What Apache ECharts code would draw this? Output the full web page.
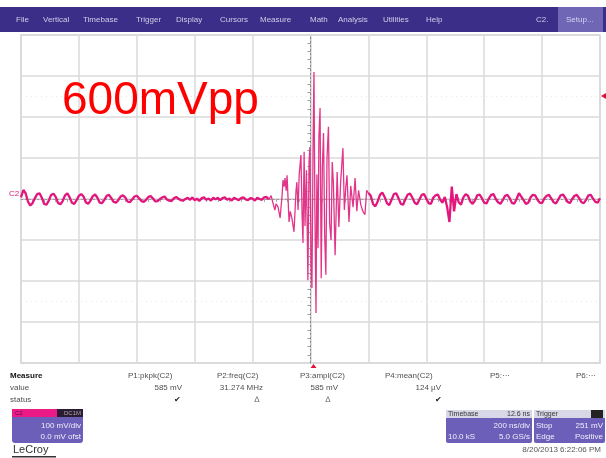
<!DOCTYPE html>
<html><head><meta charset="utf-8">
<script src="https://cdn.jsdelivr.net/npm/echarts@6/dist/echarts.min.js"></script>
<style>html,body{margin:0;padding:0;background:#fff}#c{width:606px;height:458px}</style>
</head><body><div id="c"></div>
<script>
// ---- data ----
const timeStartNs = -1000;
const sampleStepNs = 8;
const preTriggerMv = [
  4, 22, 14, -6, -16, -10,
  2, 12, 14, 3, -12, -14,
  -4, 10, 13, 5, -10, -13,
  -5, 9, 14, 4, -9, -12,
  -3, 8, 12, 6, -8, -12,
  -4, 7, 11, 3, -9, -10,
  -2, 8, 10, 2, -7, -9,
  -3, 6, 9, 4, -6, -8,
  -1, 6, 8, 2, -5, -7,
  -2, 5, 7, 1, -6, -5,
  0, 4, 6, -1, -4, -5,
  2, 5, 1, -3, -4, 0,
  3, -2, 4, -3, 1, -5,
  2, 4, -2, 1, -4, 3,
  -1, 3, -3, 2, 4, -2,
  1, -4, 3, 0, -3, 2,
  4, -1, -3, 2, 1, -4,
  3, 0, -2, 4, 5, -1
];
// [time ns, mV] around the trigger
const burstPoints = [
  [-136, 8], [-131, -6], [-123, -27], [-119, -12], [-112, -20], [-105, -46], [-98, 10],
  [-95, 46], [-91, 30], [-88, 51], [-84, 20], [-81, 58], [-74, -56], [-70, -30], [-64, -48],
  [-57, -80], [-50, 20], [-47, 41], [-43, -27], [-39, 60], [-33, 107], [-29, -40], [-26, -107],
  [-22, 115], [-19, -66], [-14, 70], [-9, -198], [-5, 90], [-2, 127], [2, -150], [5, -217],
  [9, 140], [12, 310], [15, -10], [19, -278], [22, 60], [26, -120], [29, 150], [33, 222],
  [37, -193], [41, 80], [45, 161], [49, -90], [53, -185], [57, 100], [62, 176], [66, -60],
  [71, -100], [75, 90], [79, 40], [85, -137], [92, 66], [98, -68], [104, 40], [112, 124],
  [117, -27], [122, 30], [126, 58], [133, -56], [139, 32], [147, -20], [154, 51], [160, -30],
  [166, 21], [174, -15], [181, -30], [188, -38], [194, 21]
];
const postStartNs = 200;
const postBurstMv = [
  15, 8, -12, -18, -6, 10,
  16, 5, -10, -15, -2, 12,
  14, 2, -12, -14, 0, 11,
  13, 3, -9, -13, -2, 10,
  12, 1, -10, -12, 3, 9,
  11, -2, -9, 5, -20, -56,
  30, -30, 12, -8, -14, 4,
  12, 8, -6, -12, -4, 9,
  11, 2, -9, -11, 1, 10,
  12, 0, -8, -12, -3, 8,
  10, 2, -10, -11, 0, 14,
  6, -3, -12, -9, 4, 10,
  9, -2, -9, -10, 2, 8,
  10, 1, -8, -11, -1, 9,
  11, 3, -7, -10, 0, 8,
  10, 2, -8, -10, -2, 9,
  10, 1, -7, -9, 2
];
const triggerLevelMv = 251;
const annotation = '600mVpp';
const menuItems = ['File','Vertical','Timebase','Trigger','Display','Cursors','Measure','Math','Analysis','Utilities','Help'];
const measureNames = ['P1:pkpk(C2)','P2:freq(C2)','P3:ampl(C2)','P4:mean(C2)','P5:\u00b7\u00b7\u00b7','P6:\u00b7\u00b7\u00b7'];
const measureValues = ['585 mV','31.274 MHz','585 mV','124 \u00b5V'];
const measureStatus = ['\u2714','\u2206','\u2206','\u2714'];
const channelLines = ['100 mV/div','0.0 mV ofst'];
const timebaseLines = ['200 ns/div','10.0 kS','5.0 GS/s'];
const triggerLines = [['Stop','251 mV'],['Edge','Positive']];
const dateText = '8/20/2013 6:22:06 PM';

// ---- build ----
const preData = preTriggerMv.map((v, i) => [timeStartNs + i * sampleStepNs, v]);
const postData = postBurstMv.map((v, i) => [postStartNs + i * sampleStepNs, v]);
const burstData = [preData[preData.length - 1]].concat(burstPoints, [postData[0]]);

const FONT = 'Liberation Sans, Arial, sans-serif';
const chart = echarts.init(document.getElementById('c'), null, {renderer: 'canvas'});

const g = [];
// menu bar
g.push({type:'rect', shape:{x:0,y:7,width:606,height:25}, style:{fill:'#3b2e88'}});
const menuX = [16,43,83,136,176,220,260,310,338,383,426];
menuItems.forEach((m,i)=>g.push({type:'text', x:menuX[i], y:19.5, style:{text:m, fill:'#cfcde8', font:'8px '+FONT, verticalAlign:'middle'}}));
g.push({type:'text', x:536, y:19.5, style:{text:'C2.', fill:'#cfcde8', font:'8px '+FONT, verticalAlign:'middle'}});
g.push({type:'rect', shape:{x:558,y:7,width:45,height:25}, style:{fill:'#7066b6'}});
g.push({type:'text', x:566, y:19.5, style:{text:'Setup...', fill:'#d6d4ee', font:'8px '+FONT, verticalAlign:'middle'}});
// annotation
g.push({type:'text', x:62, y:101, z:100, style:{text:annotation, fill:'#ff0000', font:'46px '+FONT, verticalAlign:'middle'}});
// channel label
g.push({type:'text', x:9, y:194, style:{text:'C2', fill:'#e0157a', font:'8px '+FONT, verticalAlign:'middle'}});
// measure table
const tStyle = (t, extra) => Object.assign({text:t, fill:'#505050', font:'8px '+FONT, verticalAlign:'middle'}, extra||{});
g.push({type:'text', x:10, y:376, style:tStyle('Measure', {fill:'#111', font:'bold 8px '+FONT})});
g.push({type:'text', x:10, y:388, style:tStyle('value')});
g.push({type:'text', x:10, y:400, style:tStyle('status')});
const headX = [128,217,300,385,490,576];
measureNames.forEach((n,i)=>g.push({type:'text', x:headX[i], y:376, style:tStyle(n)}));
const valX = [182,263,338,441];
measureValues.forEach((v,i)=>g.push({type:'text', x:valX[i], y:388, style:tStyle(v,{align:'right'})}));
const stX = [177,257,328,438];
measureStatus.forEach((s,i)=>g.push({type:'text', x:stX[i], y:400, style:tStyle(s,{align:'center', fill: s==='\u2714' ? '#222' : '#666'})}));
// channel box
g.push({type:'rect', shape:{x:12,y:409,width:71,height:34,r:3}, style:{fill:'#6b5fb9'}});
g.push({type:'rect', shape:{x:12,y:409,width:71,height:8}, style:{fill:'#ec1a86'}});
g.push({type:'rect', shape:{x:57,y:409,width:26,height:8}, style:{fill:'#2b1b33'}});
g.push({type:'text', x:15, y:413, style:{text:'C2', fill:'#5a1040', font:'6px '+FONT, verticalAlign:'middle'}});
g.push({type:'text', x:81, y:413, style:{text:'DC1M', fill:'#aaa', font:'6px '+FONT, verticalAlign:'middle', align:'right'}});
g.push({type:'text', x:81, y:426, style:{text:channelLines[0], fill:'#f0eefa', font:'8px '+FONT, verticalAlign:'middle', align:'right'}});
g.push({type:'text', x:81, y:437, style:{text:channelLines[1], fill:'#f0eefa', font:'8px '+FONT, verticalAlign:'middle', align:'right'}});
// LeCroy
g.push({type:'text', x:13, y:450, style:{text:'LeCroy', fill:'#333', font:'11px '+FONT, verticalAlign:'middle'}});
g.push({type:'rect', shape:{x:12,y:456,width:44,height:1.5}, style:{fill:'#333'}});
// timebase box
g.push({type:'rect', shape:{x:446,y:410,width:86,height:33,r:2}, style:{fill:'#6b5fb9'}});
g.push({type:'rect', shape:{x:446,y:410,width:86,height:8}, style:{fill:'#d8d7e8'}});
g.push({type:'text', x:448, y:414, style:{text:'Timebase', fill:'#333', font:'7px '+FONT, verticalAlign:'middle'}});
g.push({type:'text', x:530, y:414, style:{text:'12.6 ns', fill:'#333', font:'7px '+FONT, verticalAlign:'middle', align:'right'}});
g.push({type:'text', x:530, y:426, style:{text:timebaseLines[0], fill:'#f0eefa', font:'8px '+FONT, verticalAlign:'middle', align:'right'}});
g.push({type:'text', x:448, y:437, style:{text:timebaseLines[1], fill:'#f0eefa', font:'8px '+FONT, verticalAlign:'middle'}});
g.push({type:'text', x:530, y:437, style:{text:timebaseLines[2], fill:'#f0eefa', font:'8px '+FONT, verticalAlign:'middle', align:'right'}});
// trigger box
g.push({type:'rect', shape:{x:534,y:410,width:71,height:33,r:2}, style:{fill:'#6b5fb9'}});
g.push({type:'rect', shape:{x:534,y:410,width:71,height:8}, style:{fill:'#d8d7e8'}});
g.push({type:'rect', shape:{x:591,y:410,width:12,height:8}, style:{fill:'#222'}});
g.push({type:'text', x:536, y:414, style:{text:'Trigger', fill:'#333', font:'7px '+FONT, verticalAlign:'middle'}});
triggerLines.forEach((r,i)=>{
  g.push({type:'text', x:536, y:426+i*11, style:{text:r[0], fill:'#f0eefa', font:'8px '+FONT, verticalAlign:'middle'}});
  g.push({type:'text', x:603, y:426+i*11, style:{text:r[1], fill:'#f0eefa', font:'8px '+FONT, verticalAlign:'middle', align:'right'}});
});
g.push({type:'text', x:601, y:450, style:{text:dateText, fill:'#555', font:'8px '+FONT, verticalAlign:'middle', align:'right'}});

const rippleStyle = {color:'#e3167d', width:2.3};
chart.setOption({
  animation: false,
  backgroundColor: '#ffffff',
  grid: {left:21, top:35, width:579, height:328, show:true, borderColor:'#d0d0d0', borderWidth:1.5},
  xAxis: {type:'value', min:-1000, max:1000, interval:200,
    axisLabel:{show:false},
    axisLine:{show:true, onZero:true, lineStyle:{color:'#9a9a9a', width:1, type:[2,2]}},
    axisTick:{show:false},
    minorTick:{show:true, splitNumber:5, length:3, lineStyle:{color:'#aaa'}},
    splitLine:{show:true, lineStyle:{color:'#dadada', width:1.5}}},
  yAxis: {type:'value', min:-400, max:400, interval:100,
    axisLabel:{show:false},
    axisLine:{show:true, onZero:true, lineStyle:{color:'#8a8a8a', width:1, type:[2,2]}},
    axisTick:{show:false},
    minorTick:{show:true, splitNumber:5, length:3, lineStyle:{color:'#999'}},
    splitLine:{show:true, lineStyle:{color:'#dadada', width:1.5}}},
  series: [
    {name:'pre', type:'line', data: preData, showSymbol:false, symbol:'none', lineStyle:rippleStyle, z:5,
      markLine:{silent:true, symbol:'none', label:{show:false},
        lineStyle:{color:'#e6e6e6', type:[1,4], width:1},
        data:[{yAxis:250},{yAxis:-250}]}},
    {name:'burst', type:'line', data: burstData, showSymbol:false, symbol:'none', lineStyle:{color:'#e2358a', width:1.3}, z:6},
    {name:'post', type:'line', data: postData, showSymbol:false, symbol:'none', lineStyle:rippleStyle, z:5}
  ],
  graphic: g
});
// trigger markers positioned from the axes
const pLevel = chart.convertToPixel({gridIndex:0}, [1000, triggerLevelMv]);
const pPos = chart.convertToPixel({gridIndex:0}, [0, -400]);
chart.setOption({graphic: g.concat([
  {type:'polygon', shape:{points:[[pLevel[0]+1,pLevel[1]],[pLevel[0]+6,pLevel[1]-3],[pLevel[0]+6,pLevel[1]+3]]}, style:{fill:'#e0103a'}},
  {type:'polygon', shape:{points:[[pPos[0]+3,pPos[1]+1],[pPos[0],pPos[1]+5],[pPos[0]+6,pPos[1]+5]]}, style:{fill:'#e0103a'}}
])});
</script></body></html>
